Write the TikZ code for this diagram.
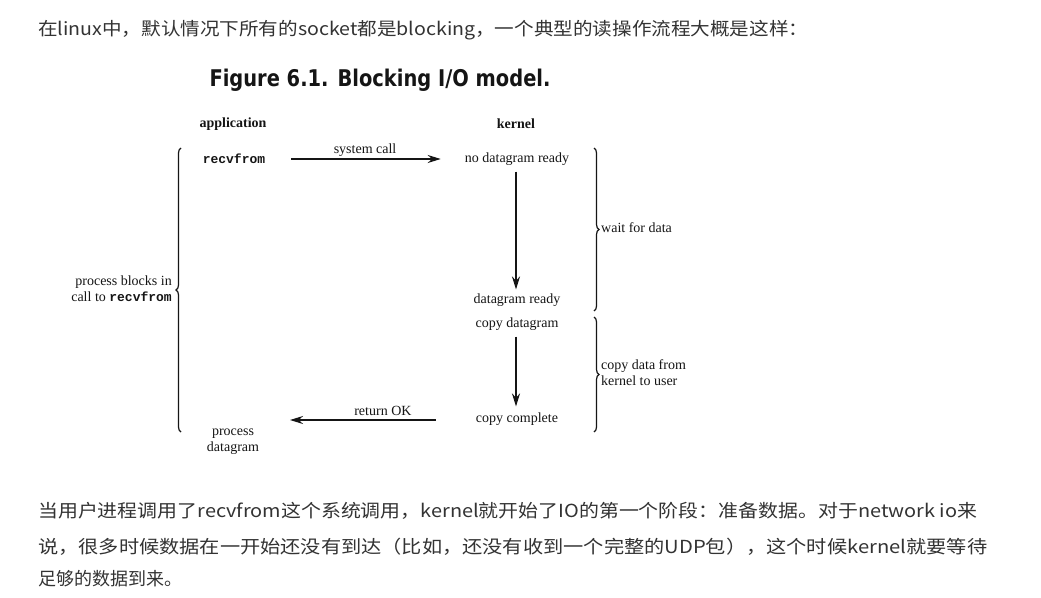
\documentclass[tikz,border=0pt]{standalone}
\usepackage{fontspec}
\usepackage{graphicx}
\setmainfont{Liberation Serif}
\setmonofont{Liberation Mono}
\newfontfamily\cjk{Noto Sans CJK SC}
\newfontfamily\ttlfont{DejaVu Sans}
\usetikzlibrary{arrows.meta,decorations.pathreplacing}
\definecolor{txt}{HTML}{333333}
\definecolor{ink}{HTML}{151515}
\tikzset{
  para/.style={anchor=base west, inner sep=0pt, text=txt, font=\cjk\fontsize{18}{20}\selectfont},
  lbl/.style={inner sep=0pt, text=ink, font=\fontsize{14}{16}\selectfont},
  hdr/.style={lbl, font=\fontsize{14}{16}\selectfont\bfseries},
  arr/.style={draw=ink, line width=1.6pt, -{Stealth[length=13pt,width=8pt]}},
  brc/.style={draw=ink, line width=1.2pt, decorate, decoration={brace, amplitude=5pt, aspect=0.5}},
}
\newcommand{\rv}{{\ttfamily\bfseries\fontsize{13}{16}\selectfont recvfrom}}
\begin{document}
\begin{tikzpicture}[x=1pt, y=-1pt]
\useasboundingbox[fill=white] (0,0) rectangle (1041,597);
% top paragraph
\node[para] (p0) at (38,35) {\resizebox{770pt}{\height}{在linux中，默认情况下所有的socket都是blocking，一个典型的读操作流程大概是这样：}};
% title
\node[inner sep=0pt, text=ink] (title) at (380,80) {\resizebox{341pt}{\height}{\ttlfont\bfseries\fontsize{23}{26}\selectfont Figure 6.1. Blocking I/O model.}};
% headers
\node[hdr] (app) at (233,124) {application};
\node[hdr] (kern) at (516,124) {kernel};
% nodes
\node[lbl] (recv) at (234,159) {\rv};
\node[lbl] (nodg) at (517,159) {no datagram ready};
\node[lbl] (dgr) at (517,300) {datagram ready};
\node[lbl] (cpd) at (517,324) {copy datagram};
\node[lbl] (cpc) at (517,419) {copy complete};
\node[lbl, align=center] (proc) at (233,442) {process\\datagram};
\coordinate (retend) at (290,420);
% arrows
\draw[arr, shorten <=26pt, shorten >=24pt] (recv.east) -- (nodg.west) node[midway, above=1.5pt, lbl] (sc) {system call};
\draw[arr, shorten <=6pt, shorten >=4pt] (nodg.south -| 516,0) -- (dgr.north -| 516,0);
\draw[arr, shorten <=6pt, shorten >=6pt] (cpd.south -| 516,0) -- (cpc.north -| 516,0);
\draw[arr, shorten <=40pt] (cpc.west |- retend) -- (retend) node[midway, above=4pt, lbl] (rok) {return OK};
% braces
\coordinate (lb1) at (181,432);
\coordinate (lb2) at (181,148);
\draw[brc] (lb1) -- (lb2);
\node[lbl, align=right, anchor=east] (blk) at (172,289) {process blocks in\\call to \rv};
\coordinate (rb1) at (594,148);
\coordinate (rb2) at (594,311);
\draw[brc] (rb1) -- (rb2);
\node[lbl, anchor=west] (wfd) at (601,228) {wait for data};
\coordinate (rb3) at (594,317);
\coordinate (rb4) at (594,432);
\draw[brc] (rb3) -- (rb4);
\node[lbl, align=left, anchor=west] (cdk) at (601,373) {copy data from\\kernel to user};
% bottom paragraph
\node[para] (p1) at (38,517) {\resizebox{939pt}{\height}{当用户进程调用了recvfrom这个系统调用，kernel就开始了IO的第一个阶段：准备数据。对于network io来}};
\node[para] (p2) at (38,553) {\resizebox{949pt}{\height}{说，很多时候数据在一开始还没有到达（比如，还没有收到一个完整的UDP包），这个时候kernel就要等待}};
\node[para] (p3) at (38,585) {足够的数据到来。};
\end{tikzpicture}
\end{document}
